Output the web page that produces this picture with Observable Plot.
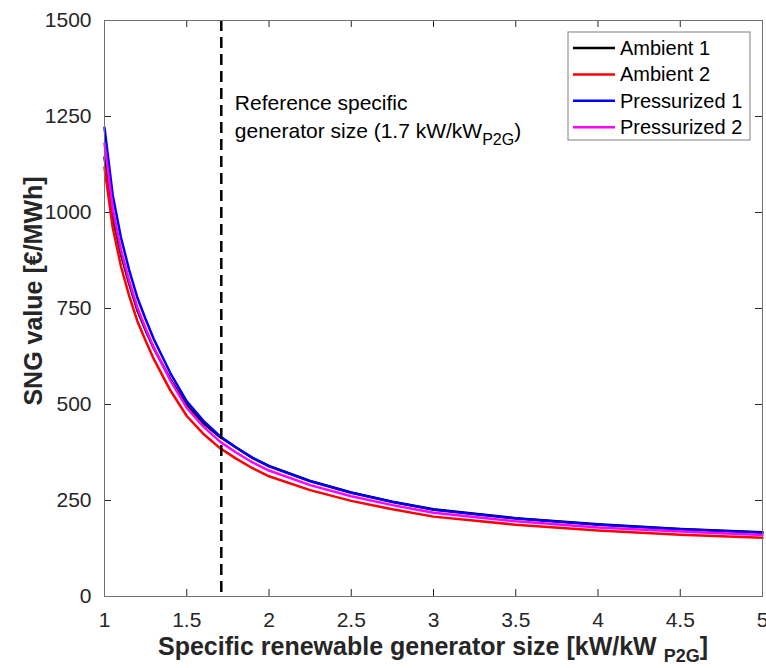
<!DOCTYPE html>
<html><head><meta charset="utf-8">
<script src="https://cdn.jsdelivr.net/npm/d3@7"></script>
<script src="https://cdn.jsdelivr.net/npm/@observablehq/plot@0.6"></script>
<style>body{margin:0;background:#fff} #chart{width:766px;height:668px}</style>
</head><body><div id="chart"></div>
<script>
const xValues = [1, 1.05, 1.1, 1.15, 1.2, 1.25, 1.3, 1.4, 1.5, 1.6, 1.7, 1.8, 1.9, 2, 2.25, 2.5, 2.75, 3, 3.5, 4, 4.5, 5];
const ambient1 = [1143, 988, 891, 814, 745, 693, 646, 566, 499, 452, 416, 388, 361, 340, 301, 271, 247, 227, 204, 188, 176, 167];
const ambient2 = [1117, 960, 860, 783, 717, 666, 618, 537, 470, 424, 387, 359, 334, 313, 277, 249, 227, 208, 187, 172, 161, 153];
const pressurized1 = [1221, 1045, 935, 850, 778, 722, 670, 582, 508, 458, 418, 388, 361, 339, 300, 270, 246, 226, 203, 187, 175, 166];
const pressurized2 = [1180, 1010, 903, 822, 752, 698, 648, 563, 491, 443, 404, 375, 349, 328, 290, 261, 238, 218, 196, 180, 169, 160];
const seriesNames = ["Ambient 1", "Ambient 2", "Pressurized 1", "Pressurized 2"];
const seriesColors = ["#000000", "#ff0000", "#0000ff", "#ff00ff"];
const xTicks = [1, 1.5, 2, 2.5, 3, 3.5, 4, 4.5, 5];
const yTicks = [0, 250, 500, 750, 1000, 1250, 1500];
const referenceSize = 1.71;

const seriesValues = [ambient1, ambient2, pressurized1, pressurized2];
const rows = seriesNames.flatMap((name, k) => xValues.map((x, i) => ({series: name, x, y: seriesValues[k][i]})));

const W = 766, H = 668, mL = 104, mR = 4, mT = 20, mB = 72;
const plotH = H - mT - mB;
const plotW = W - mL - mR;
const tk = 7;
const axisColor = "#262626";
const font = "'Liberation Sans', Arial, Helvetica, sans-serif";

const chart = Plot.plot({
  width: W, height: H,
  marginLeft: mL, marginRight: mR, marginTop: mT, marginBottom: mB,
  style: {fontFamily: font, fontSize: "21px", background: "white", color: axisColor},
  x: {domain: [1, 5], label: null},
  y: {domain: [0, 1500], label: null},
  color: {domain: seriesNames, range: seriesColors},
  marks: [
    Plot.axisX(xTicks, {tickSize: 0, tickPadding: 16, label: null, fill: axisColor, tickFormat: d => String(d)}),
    Plot.axisY(yTicks, {tickSize: 0, tickPadding: 13, label: null, fill: axisColor, tickFormat: d => String(d)}),
    Plot.ruleX(xTicks, {x: d => d, insetTop: plotH - tk, stroke: axisColor, strokeWidth: 1}),
    Plot.ruleX(xTicks, {x: d => d, insetBottom: plotH - tk, stroke: axisColor, strokeWidth: 1}),
    Plot.ruleY(yTicks, {y: d => d, insetRight: plotW - tk, stroke: axisColor, strokeWidth: 1}),
    Plot.ruleY(yTicks, {y: d => d, insetLeft: plotW - tk, stroke: axisColor, strokeWidth: 1}),
    Plot.line(rows, {x: "x", y: "y", stroke: "series", strokeWidth: 2.5}),
    Plot.ruleX([referenceSize], {stroke: "black", strokeWidth: 2.5, strokeDasharray: "11,6"}),
    Plot.frame({stroke: "#707070", strokeWidth: 1})
  ]
});
document.getElementById("chart").appendChild(chart);

const sx = chart.scale("x"), sy = chart.scale("y");
const svg = d3.select(chart);

// x label
const xl = svg.append("text")
  .attr("x", (sx.apply(1) + sx.apply(5)) / 2).attr("y", 655)
  .attr("text-anchor", "middle").attr("font-family", font).attr("font-weight", "bold")
  .attr("font-size", 25).attr("fill", axisColor);
xl.append("tspan").text("Specific renewable generator size [kW/kW ");
xl.append("tspan").attr("font-size", 18).attr("dy", 7).text("P2G");
xl.append("tspan").attr("dy", -7).text("]");

// y label
svg.append("text")
  .attr("transform", `translate(42, ${(sy.apply(0) + sy.apply(1500)) / 2 - 17}) rotate(-90)`)
  .attr("text-anchor", "middle").attr("font-family", font).attr("font-weight", "bold")
  .attr("font-size", 25).attr("fill", axisColor)
  .text("SNG value [€/MWh]");

// annotation
const ax = sx.apply(referenceSize) + 14;
svg.append("text").attr("font-family", font).attr("font-size", 21).attr("fill", "black")
  .attr("text-anchor", "start").attr("x", ax).attr("y", sy.apply(1265)).text("Reference specific");
const l2 = svg.append("text").attr("font-family", font).attr("font-size", 21).attr("fill", "black")
  .attr("text-anchor", "start").attr("x", ax).attr("y", sy.apply(1192));
l2.append("tspan").text("generator size (1.7 kW/kW");
l2.append("tspan").attr("font-size", 16).attr("dy", 7).text("P2G");
l2.append("tspan").attr("dy", -7).text(")");

// legend
const lg = svg.append("g").attr("font-family", font).attr("font-size", 20).attr("text-anchor", "start");
lg.append("rect").attr("x", 568).attr("y", 32).attr("width", 182).attr("height", 108)
  .attr("fill", "white").attr("stroke", "#808080").attr("stroke-width", 1);
seriesNames.forEach((name, i) => {
  const cy = 48 + i * 26.4;
  lg.append("line").attr("x1", 573).attr("x2", 615).attr("y1", cy).attr("y2", cy)
    .attr("stroke", seriesColors[i]).attr("stroke-width", 2.5);
  lg.append("text").attr("x", 620).attr("y", cy).attr("dy", "0.35em").attr("fill", "black").text(name);
});
</script>
</body></html>
